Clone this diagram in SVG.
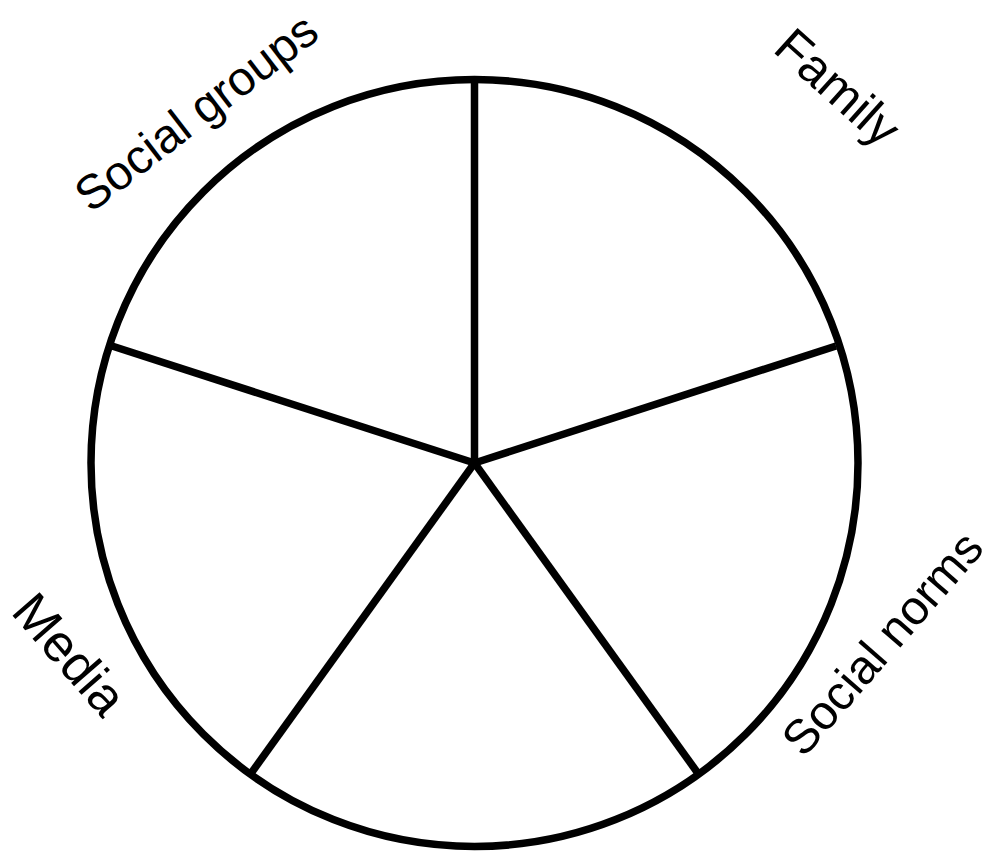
<svg xmlns="http://www.w3.org/2000/svg" width="992" height="851" viewBox="0 0 992 851">
<style>
.ln{stroke:#000;stroke-width:7.5;fill:none;stroke-linecap:butt}
.lbl{font-family:"Liberation Sans",Arial,sans-serif;font-size:50px;fill:#000;text-anchor:middle}
</style>
<rect width="992" height="851" fill="#fff"/>
<g id="wheel">
<circle class="ln" cx="474.5" cy="463" r="383.5"/>
</g>
<g id="connectors">
<line class="ln" x1="474.5" y1="463" x2="474.5" y2="80"/>
<line class="ln" x1="474.5" y1="463" x2="836" y2="346"/>
<line class="ln" x1="474.5" y1="463" x2="697" y2="772"/>
<line class="ln" x1="474.5" y1="463" x2="252" y2="772"/>
<line class="ln" x1="474.5" y1="463" x2="112" y2="346"/>
</g>
<g id="social-groups"><text class="lbl" style="font-size:48px" transform="translate(196,112) rotate(-37.5)" dy="0.35em">Social groups</text></g>
<g id="family"><text class="lbl" transform="translate(838,87) rotate(42)" dy="0.35em">Family</text></g>
<g id="social-norms"><text class="lbl" style="font-size:48px" transform="translate(882,643) rotate(-49)" dy="0.35em">Social norms</text></g>
<g id="media"><text class="lbl" style="font-size:52px" transform="translate(70,654) rotate(49)" dy="0.35em">Media</text></g>
</svg>
